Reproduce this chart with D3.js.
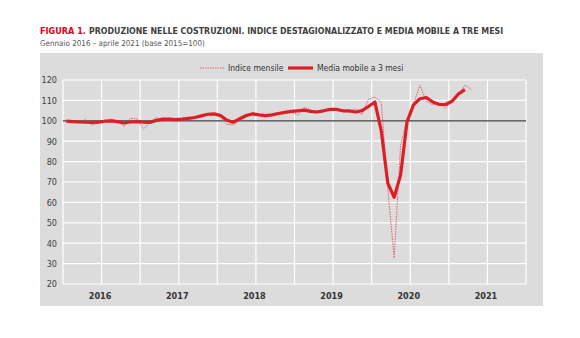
<!DOCTYPE html>
<html>
<head>
<meta charset="utf-8">
<script src="https://cdn.jsdelivr.net/npm/d3@7/dist/d3.min.js"></script>
<style>
  html, body { margin: 0; padding: 0; background: #fff; }
  svg { display: block; }
  text { font-family: "Liberation Sans Narrow", "Arial Narrow", "DejaVu Sans Condensed", "Liberation Sans", sans-serif; }
</style>
</head>
<body>
<svg id="chart" width="580" height="338"></svg>
<script>
// ---- Data ----
const years = [2016, 2017, 2018, 2019, 2020, 2021];
const yTicks = [20, 30, 40, 50, 60, 70, 80, 90, 100, 110, 120];
// Monthly index, Jan 2016 – Apr 2021
const indiceMensile = [
  100.2, 99.6, 99.4, 100.6, 97.8, 99.0, 99.5, 100.9, 99.8, 97.3, 101.2, 101.0,
  95.8, 99.2, 101.6, 100.4, 101.3, 100.5, 100.6, 100.8, 101.5, 102.3, 103.5, 103.0,
  101.8, 98.2, 98.0, 100.8, 102.0, 104.2, 103.0, 102.4, 102.6, 103.4, 104.0, 104.3,
  102.8, 106.6, 105.5, 104.0, 104.8, 105.6, 105.8, 104.6, 104.4, 106.0, 102.9, 110.6,
  111.6, 109.0, 67.0, 32.8, 88.0, 101.0, 108.0, 117.4, 109.6, 107.8, 108.8, 106.2,
  110.3, 112.6, 117.5, 115.4
];
// Centred 3-month moving average, Jan 2016 – Mar 2021
const mediaMobile = [
  99.8, 99.6, 99.4, 99.3, 99.2, 99.3, 99.8, 100.0, 99.6, 99.0, 99.4, 99.6,
  99.3, 99.2, 100.2, 100.8, 100.8, 100.6, 100.8, 101.2, 101.6, 102.4, 103.2, 103.4,
  102.6, 100.3, 99.3, 101.0, 102.6, 103.4, 102.9, 102.5, 102.9, 103.6, 104.1, 104.6,
  104.9, 105.2, 104.6, 104.3, 104.9, 105.6, 105.6, 104.9, 104.9, 104.3, 105.0, 107.0,
  109.2, 95.0, 69.5, 62.5, 73.5, 99.5, 107.8, 110.8, 111.4, 109.2, 108.0, 108.0,
  109.6, 113.2, 115.3
];

// ---- Layout ----
const svg = d3.select("#chart");
const red = "#e3001b";
const lineRed = "#dc1f26";
const dotRed = "#e0525a";
const ff = '"Liberation Sans Narrow", "Arial Narrow", "DejaVu Sans Condensed", sans-serif';

// fit a text's font size so it spans the given width
function fitText(sel, width, maxSize) {
  sel.attr("font-size", maxSize);
  const len = sel.node().getComputedTextLength();
  if (len > width) sel.attr("font-size", (maxSize * width / len).toFixed(2));
  return sel;
}

fitText(svg.append("text").attr("x", 40).attr("y", 34)
  .attr("font-weight", "bold").attr("fill", red).text("FIGURA 1."), 46, 11.5);
fitText(svg.append("text").attr("x", 89).attr("y", 34)
  .attr("font-weight", "bold").attr("fill", "#404040")
  .text("PRODUZIONE NELLE COSTRUZIONI. INDICE DESTAGIONALIZZATO E MEDIA MOBILE A TRE MESI"), 414, 11.5);
fitText(svg.append("text").attr("x", 40).attr("y", 46).attr("fill", "#555")
  .text("Gennaio 2016 – aprile 2021 (base 2015=100)"), 165, 9.5);

// panel
svg.append("rect").attr("x", 40).attr("y", 53).attr("width", 503).attr("height", 253)
  .attr("fill", "#dcdcdc");

const x = d3.scaleLinear().domain([0, 72]).range([63, 526]);
const y = d3.scaleLinear().domain([20, 120]).range([284, 80]);

const g = svg.append("g");
g.selectAll(".hg").data(yTicks).join("line")
  .attr("x1", x(0)).attr("x2", x(72))
  .attr("y1", d => y(d)).attr("y2", d => y(d))
  .attr("stroke", "#fff").attr("stroke-width", 1.2);
g.selectAll(".vg").data(d3.range(0, 73, 6)).join("line")
  .attr("x1", d => x(d)).attr("x2", d => x(d))
  .attr("y1", y(20)).attr("y2", y(120))
  .attr("stroke", "#fff").attr("stroke-width", 1.2);

const yAxis = d3.axisLeft(y).tickValues(yTicks).tickSize(0).tickPadding(6);
const ya = svg.append("g").attr("transform", `translate(${x(0)},0)`).call(yAxis);
ya.select(".domain").remove();
ya.selectAll("text").attr("font-size", 9).attr("fill", "#404040").style("font-family", ff);

const xAxis = d3.axisBottom(x).tickValues(years.map((d, i) => i * 12 + 6))
  .tickFormat((d) => years[Math.round((d - 6) / 12)]).tickSize(0).tickPadding(9);
const xa = svg.append("g").attr("transform", `translate(-2,${y(20)})`).call(xAxis);
xa.select(".domain").remove();
xa.selectAll("text").attr("font-size", 9).attr("font-weight", "bold").attr("fill", "#333").style("font-family", ff);

svg.append("line").attr("x1", x(0)).attr("x2", x(72))
  .attr("y1", y(100)).attr("y2", y(100))
  .attr("stroke", "#3a3a3a").attr("stroke-width", 1.2);

const line = d3.line().x((d, i) => x(i + 0.5)).y(d => y(d));

svg.append("path").datum(indiceMensile).attr("d", line)
  .attr("fill", "none").attr("stroke", dotRed).attr("stroke-width", 0.9)
  .attr("stroke-dasharray", "1.5,1");
svg.append("path").datum(mediaMobile).attr("d", line)
  .attr("fill", "none").attr("stroke", lineRed).attr("stroke-width", 3.2)
  .attr("stroke-linejoin", "round");

const lg = svg.append("g");
lg.append("line").attr("x1", 200).attr("x2", 225).attr("y1", 68).attr("y2", 68)
  .attr("stroke", dotRed).attr("stroke-width", 0.9).attr("stroke-dasharray", "1.5,1");
lg.append("text").attr("x", 228).attr("y", 71).attr("font-size", 8.5).attr("fill", "#333")
  .text("Indice mensile");
lg.append("line").attr("x1", 288).attr("x2", 313).attr("y1", 68).attr("y2", 68)
  .attr("stroke", lineRed).attr("stroke-width", 3.2);
lg.append("text").attr("x", 317).attr("y", 71).attr("font-size", 8.5).attr("fill", "#333")
  .text("Media mobile a 3 mesi");
</script>
</body>
</html>
